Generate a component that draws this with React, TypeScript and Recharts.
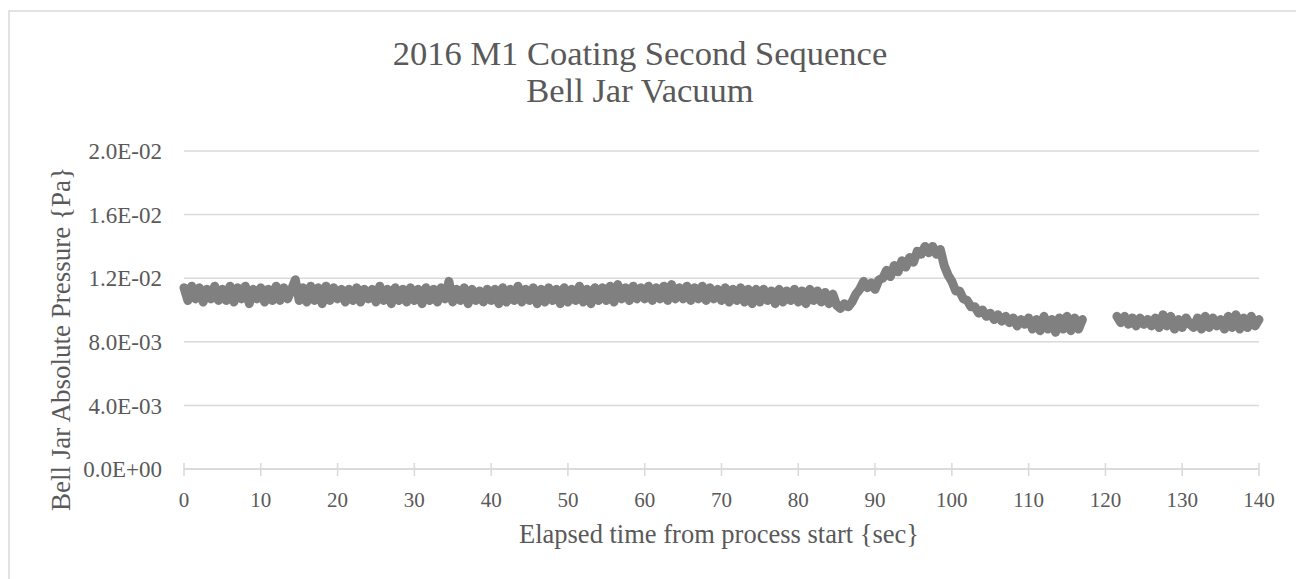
import React from 'react';
import { LineChart, Line, XAxis, YAxis, CartesianGrid, Customized } from 'recharts';

// Sampling step of the logged record (seconds)
const SAMPLE_STEP = 0.5;

// First logged run: starts at 0 s (values in units of 1e-4 Pa)
const run1Start = 0;
const run1Values: number[] = [
  // 0 - 4.5
  114, 106, 115, 107, 114, 105, 113, 107, 115, 106,
  // 5 - 9.5
  113, 106, 115, 105, 114, 107, 115, 104, 113, 107,
  // 10 - 14.5
  114, 105, 113, 106, 115, 106, 114, 107, 113, 119,
  // 15 - 19.5
  106, 114, 105, 115, 106, 114, 104, 115, 106, 114,
  // 20 - 24.5
  107, 113, 105, 113, 106, 114, 105, 113, 107, 113,
  // 25 - 29.5
  105, 115, 106, 113, 104, 114, 106, 113, 105, 114,
  // 30 - 34.5
  106, 113, 104, 114, 106, 113, 105, 114, 107, 118,
  // 35 - 39.5
  105, 113, 106, 114, 104, 113, 106, 112, 105, 113,
  // 40 - 44.5
  106, 113, 104, 114, 105, 113, 106, 115, 105, 113,
  // 45 - 49.5
  106, 114, 104, 113, 105, 114, 106, 113, 104, 114,
  // 50 - 54.5
  105, 113, 106, 115, 105, 113, 104, 114, 106, 114,
  // 55 - 59.5
  106, 115, 105, 116, 107, 114, 106, 115, 107, 114,
  // 60 - 64.5
  107, 115, 106, 114, 107, 115, 106, 116, 107, 114,
  // 65 - 69.5
  107, 115, 106, 114, 107, 115, 106, 114, 107, 113,
  // 70 - 74.5
  106, 114, 105, 113, 106, 114, 105, 113, 104, 113,
  // 75 - 79.5
  105, 113, 106, 112, 104, 113, 105, 112, 106, 113,
  // 80 - 84.5
  105, 112, 104, 113, 106, 112, 105, 111, 104, 110,
  // 85 - 89.5
  103, 101, 104, 102, 105, 110, 113, 118, 114, 117,
  // 90 - 94.5
  113, 119, 120, 125, 121, 128, 124, 131, 127, 133,
  // 95 - 99.5
  130, 137, 135, 140, 136, 140, 135, 138, 128, 122,
  // 100 - 104.5
  118, 112, 112, 107, 106, 102, 102, 98, 100, 96,
  // 105 - 109.5
  98, 94, 97, 93, 96, 92, 95, 90, 94, 91,
  // 110 - 117
  95, 88, 94, 87, 96, 88, 94, 86, 95, 88, 96, 87, 95, 88, 94,
];

// Second logged run: resumes at 121.5 s
const run2Start = 121.5;
const run2Values: number[] = [
  96, 92, 96, 91, 95, 90, 95, 91, 94, 90,
  95, 89, 97, 90, 96, 88, 94, 89, 95, 91,
  89, 95, 88, 96, 89, 95, 90, 94, 88, 96,
  89, 97, 88, 95, 89, 96, 90, 94,
];

const gapTime = 119;
const UNIT = 1e-4;

const xTicks = [0, 10, 20, 30, 40, 50, 60, 70, 80, 90, 100, 110, 120, 130, 140];
const yTicks = [0, 0.004, 0.008, 0.012, 0.016, 0.02];

const titleLines = ['2016 M1 Coating Second Sequence', 'Bell Jar Vacuum'];
const xTitle = 'Elapsed time from process start {sec}';
const yTitle = 'Bell Jar Absolute Pressure {Pa}';

type Pt = { t: number; p: number | null };
const data: Pt[] = [
  ...run1Values.map((v, i) => ({ t: run1Start + i * SAMPLE_STEP, p: v * UNIT })),
  { t: gapTime, p: null },
  ...run2Values.map((v, i) => ({ t: run2Start + i * SAMPLE_STEP, p: v * UNIT })),
];

const FONT = '"Liberation Serif", "Times New Roman", serif';
const TEXT = '#595959';
const GRID = '#d9d9d9';

const fmtExp = (v: number) => {
  const [m, e] = v.toExponential(1).split('e');
  const n = parseInt(e, 10);
  const sign = n < 0 ? '-' : '+';
  const d = String(Math.abs(n)).padStart(2, '0');
  return `${m}E${sign}${d}`;
};

const XTick = (props: any) => {
  const { x, y, payload } = props;
  return (
    <g>
      <line x1={x} x2={x} y1={y - 6} y2={y + 7} stroke={GRID} strokeWidth={1.5} />
      <text x={x} y={y + 38} textAnchor="middle" fill={TEXT} fontSize={21} fontFamily={FONT}>
        {payload.value}
      </text>
    </g>
  );
};

const YTick = (props: any) => {
  const { x, y, payload } = props;
  return (
    <text x={x} y={y} dy="0.36em" textAnchor="end" fill={TEXT} fontSize={23} fontFamily={FONT}>
      {fmtExp(payload.value)}
    </text>
  );
};

const Decorations = () => (
  <g>
    <rect x={9} y={11} width={1300} height={600} fill="none" stroke={GRID} strokeWidth={1.5} />
    <text x={640} y={65} textAnchor="middle" fill={TEXT} fontSize={34.5} fontFamily={FONT}>
      {titleLines[0]}
    </text>
    <text x={640} y={102} textAnchor="middle" fill={TEXT} fontSize={34.5} fontFamily={FONT}>
      {titleLines[1]}
    </text>
    <text x={719} y={543} textAnchor="middle" fill={TEXT} fontSize={26.5} fontFamily={FONT}>
      {xTitle}
    </text>
    <text
      x={70}
      y={339}
      textAnchor="middle"
      fill={TEXT}
      fontSize={27}
      fontFamily={FONT}
      transform="rotate(-90 70 339)"
    >
      {yTitle}
    </text>
  </g>
);

export default function App() {
  return (
    <div style={{ position: 'absolute', left: 0, top: 0, width: 1296, height: 579, background: '#fff' }}>
      <LineChart
        width={1296}
        height={579}
        data={data}
        margin={{ top: 151, right: 37, bottom: 50, left: 0 }}
      >
        <CartesianGrid vertical={false} stroke={GRID} strokeWidth={1.5} />
        <XAxis
          dataKey="t"
          type="number"
          domain={[0, 140]}
          ticks={xTicks}
          height={60}
          tickSize={0}
          tickMargin={0}
          tickLine={false}
          axisLine={{ stroke: GRID, strokeWidth: 1.5 }}
          tick={<XTick />}
          interval={0}
        />
        <YAxis
          type="number"
          domain={[0, 0.02]}
          ticks={yTicks}
          width={184}
          tickSize={0}
          tickMargin={22}
          tickLine={false}
          axisLine={false}
          tick={<YTick />}
          interval={0}
        />
        <Line
          type="linear"
          dataKey="p"
          stroke="#808080"
          strokeWidth={9}
          dot={false}
          activeDot={false}
          strokeLinejoin="round"
          strokeLinecap="round"
          connectNulls={false}
          isAnimationActive={false}
        />
        <Customized component={<Decorations />} />
      </LineChart>
    </div>
  );
}
